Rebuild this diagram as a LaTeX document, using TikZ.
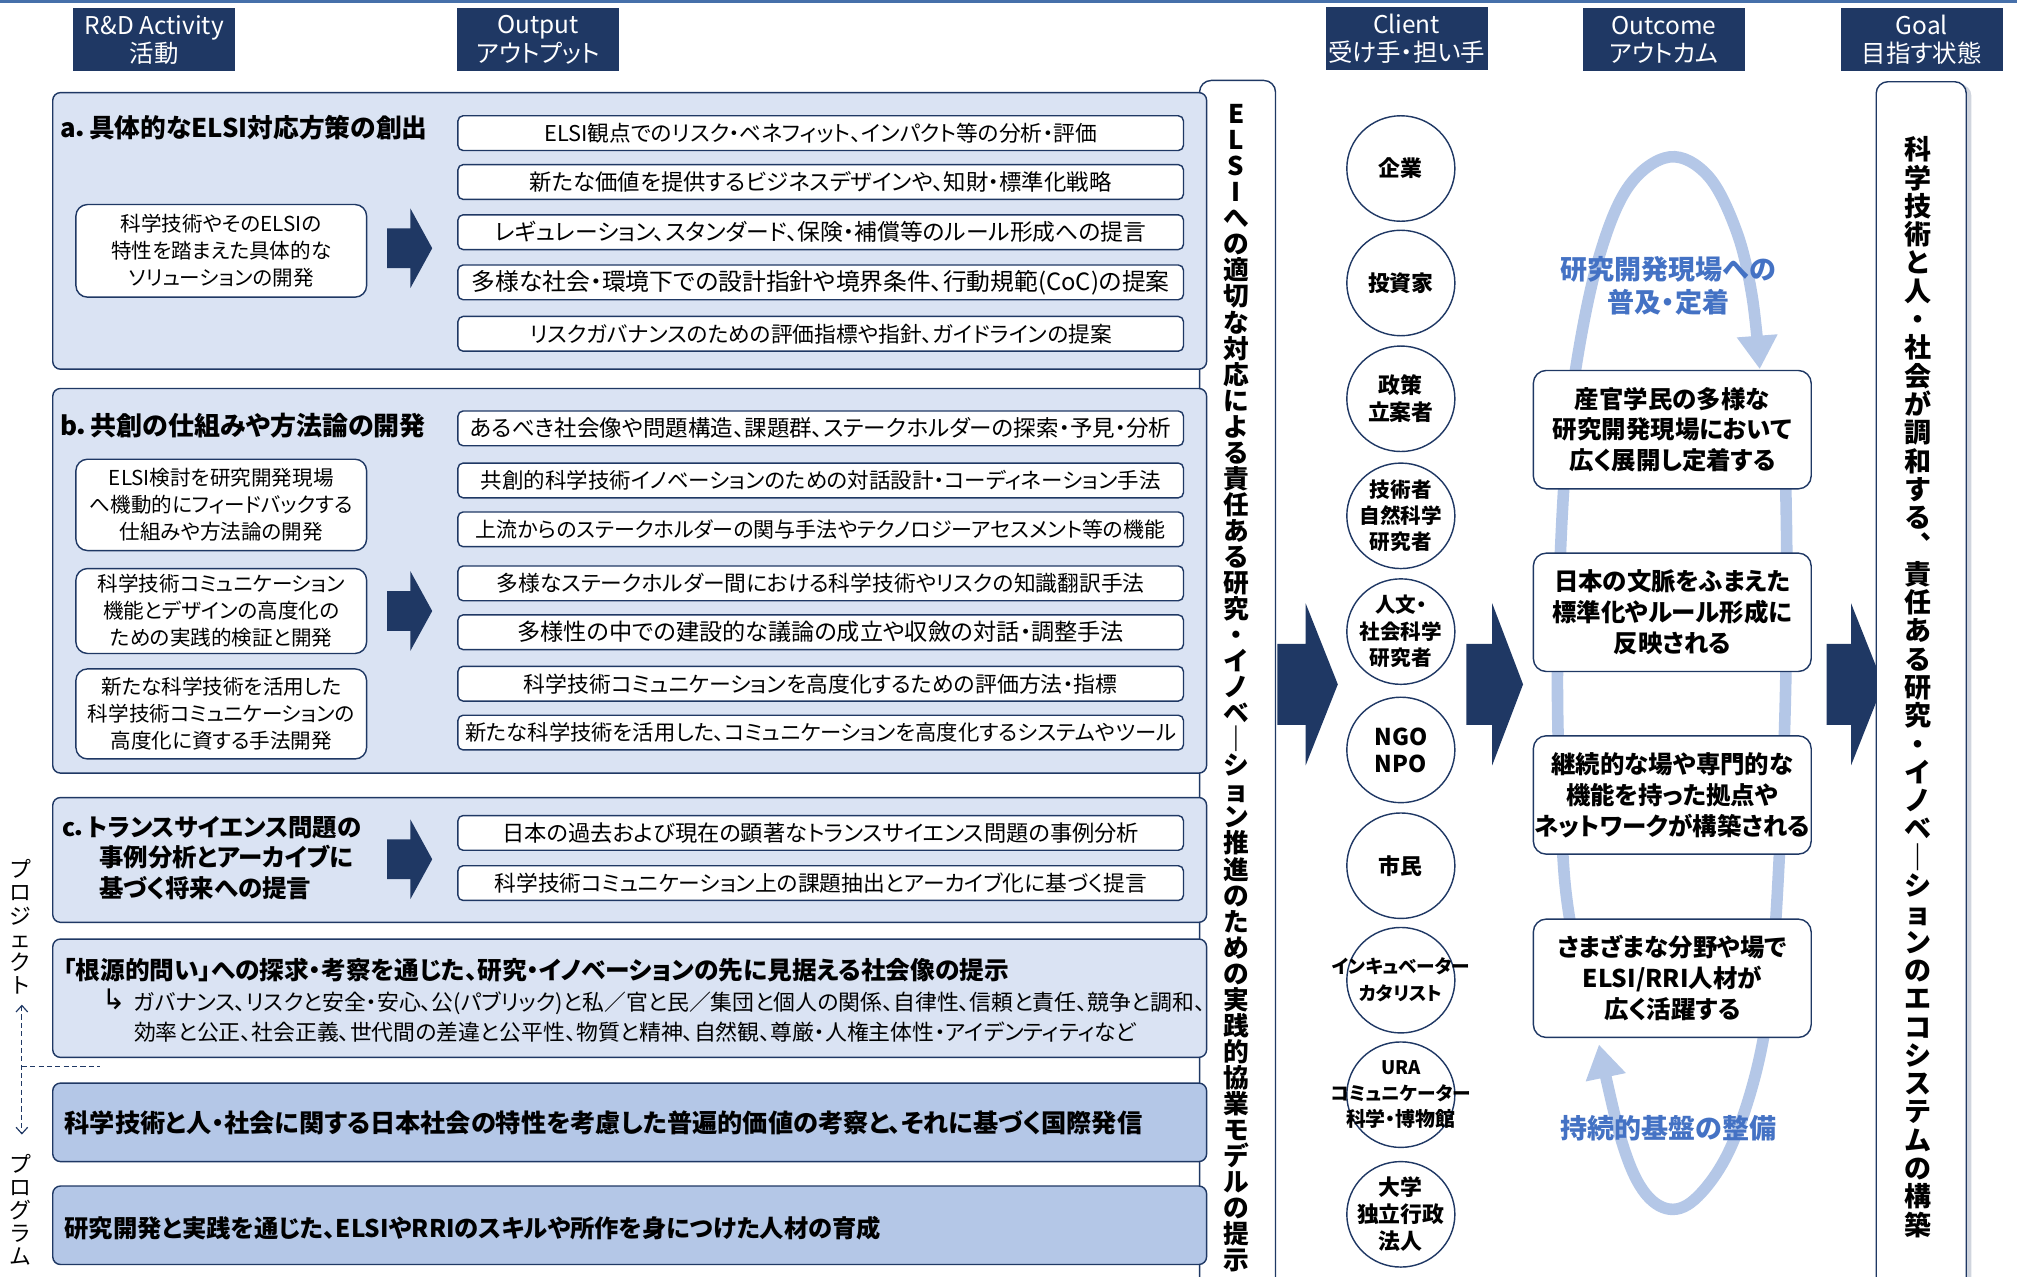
\documentclass[tikz,border=0pt]{standalone}
\usepackage{fontspec}
\setmainfont{Noto Sans CJK JP}
\newfontfamily\jc[RawFeature=+palt]{Noto Sans CJK JP}
\newfontfamily\jp[RawFeature=+palt]{Noto Sans CJK JP}
\newfontfamily\dv{DejaVu Sans}
\usetikzlibrary{shapes.geometric,arrows.meta,shadows}
\definecolor{navy}{RGB}{31,56,100}
\definecolor{lightfill}{RGB}{218,227,243}
\definecolor{midfill}{RGB}{180,199,231}
\definecolor{loopc}{RGB}{180,199,231}
\definecolor{bluetxt}{RGB}{68,114,196}
\definecolor{topline}{RGB}{70,112,170}
\newcommand\fsz[2]{\fontsize{#1}{#2}\selectfont}
\newcommand\blockarrow[6]{\fill[navy] (#1,#4-#5) -- (#2,#4-#5) -- (#2,#4-#6) -- (#3,#4) -- (#2,#4+#6) -- (#2,#4+#5) -- (#1,#4+#5) -- cycle;}
\tikzset{
 hdr/.style={fill=navy, text=white, minimum width=126pt, minimum height=49pt, inner sep=0pt, align=center, font=\jc\fsz{19}{22}},
 sect/.style={draw=navy, line width=1.1pt, fill=lightfill, rounded corners=6pt, inner sep=0pt, minimum width=897pt},
 sectdark/.style={sect, fill=midfill},
 obox/.style={draw=navy, line width=1.1pt, fill=white, rounded corners=4pt, minimum width=564pt, minimum height=27pt, inner sep=0pt, font=\jc\fsz{17}{20}},
 sbox/.style={draw=navy, line width=1.1pt, fill=white, rounded corners=9pt, minimum width=226pt, inner sep=0pt, align=center, font=\jc\fsz{16}{21}},
 ttl/.style={anchor=west, inner sep=0pt, font=\jc\bfseries\fsz{20}{24}, align=left},
 cli/.style={ellipse, draw=navy, line width=1.1pt, fill=white, minimum width=84pt, minimum height=82pt, inner sep=0pt},
 clitxt/.style={inner sep=0pt, align=center, font=\jp\bfseries\fsz{17}{21}},
 ocb/.style={draw=navy, line width=1.1pt, fill=white, rounded corners=10pt, minimum width=216pt, minimum height=92pt, inner sep=0pt, align=center, font=\jp\bfseries\fsz{19}{24}},
 vbox/.style={draw=navy, line width=1.1pt, fill=white, rounded corners=9pt, inner sep=0pt},
 vtxt/.style={inner sep=0pt, align=center, anchor=north},
 looparrow/.style={draw=loopc, line width=9pt, -{Triangle[length=26pt,width=30pt]}},
 bluelbl/.style={inner sep=0pt, align=center, text=bluetxt, font=\jp\bfseries\fsz{21}{26}},
 dashln/.style={draw=navy, line width=0.9pt, dash pattern=on 4pt off 2.5pt},
}
\begin{document}
\begin{tikzpicture}[x=1pt,y=-1pt]
\useasboundingbox (0,0) rectangle (1568,992);
\fill[white] (0,0) rectangle (1568,992);
\fill[topline] (0,0) rectangle (1568,2.2);

% headers
\node[hdr] (hRD) at (120,31) {R\&D Activity\\活動};
\node[hdr] (hOut) at (418.5,31) {Output\\アウトプット};
\node[hdr] (hCl) at (1093.5,30) {Client\\受け手・担い手};
\node[hdr] (hOc) at (1293.5,31) {Outcome\\アウトカム};
\node[hdr] (hGo) at (1494,31) {Goal\\目指す状態};

% vertical ELSI box
\node[vbox, minimum width=59pt, minimum height=950pt, anchor=north west] (elsiBox) at (932,62) {};
\node[vtxt, font=\bfseries\fsz{20}{20.25}] (elsiTxt) at (961,81) {E\\L\\S\\I\\へ\\の\\適\\切\\な\\対\\応\\に\\よ\\る\\責\\任\\あ\\る\\研\\究\\・\\イ\\ノ\\ベ\\｜\\シ\\ョ\\ン\\推\\進\\の\\た\\め\\の\\実\\践\\的\\協\\業\\モ\\デ\\ル\\の\\提\\示};

% sections
\node[sect, minimum height=215pt] (secA) at (489.5,179.5) {};
\node[sect, minimum height=299pt] (secB) at (489.5,451.5) {};
\node[sect, minimum height=97pt] (secC) at (489.5,668.5) {};
\node[sect, minimum height=92pt] (secD) at (489.5,776) {};
\node[sectdark, minimum height=61pt] (secE) at (489.5,872.5) {};
\node[sectdark, minimum height=61pt] (secF) at (489.5,952.5) {};

% section a
\node[ttl] (titA) at (47,99) {a．具体的なELSI対応方策の創出};
\node[sbox, minimum height=72pt] (subA) at (172,195) {科学技術やそのELSIの\\特性を踏まえた具体的な\\ソリューションの開発};
\blockarrow{301}{319}{336}{193}{15.5}{31}
\node[obox, font=\jc\fsz{16.9}{20}] (oA1) at (638,103.5) {ELSI観点でのリスク・ベネフィット、インパクト等の分析・評価};
\node[obox, font=\jc\fsz{17.4}{20}] (oA2) at (638,141.5) {新たな価値を提供するビジネスデザインや、知財・標準化戦略};
\node[obox, font=\jc\fsz{17.7}{20}] (oA3) at (638,180.5) {レギュレーション、スタンダード、保険・補償等のルール形成への提言};
\node[obox, font=\jc\fsz{18.5}{20}] (oA4) at (638,219.5) {多様な社会・環境下での設計指針や境界条件、行動規範(CoC)の提案};
\node[obox, font=\jc\fsz{16.9}{20}] (oA5) at (638,259.5) {リスクガバナンスのための評価指標や指針、ガイドラインの提案};

% section b
\node[ttl, font=\jc\bfseries\fsz{20.2}{24}] (titB) at (47,331) {b．共創の仕組みや方法論の開発};
\node[sbox, minimum height=71pt] (subB1) at (172,392.5) {ELSI検討を研究開発現場\\へ機動的にフィードバックする\\仕組みや方法論の開発};
\node[sbox, minimum height=66pt] (subB2) at (172,475) {科学技術コミュニケーション\\機能とデザインの高度化の\\ための実践的検証と開発};
\node[sbox, minimum height=70pt] (subB3) at (172,555) {新たな科学技術を活用した\\科学技術コミュニケーションの\\高度化に資する手法開発};
\blockarrow{301}{319}{336}{475}{15.5}{31}
\node[obox, font=\jc\fsz{17.5}{20}] (oB1) at (638,333) {あるべき社会像や問題構造、課題群、ステークホルダーの探索・予見・分析};
\node[obox, font=\jc\fsz{16.7}{20}] (oB2) at (638,373.5) {共創的科学技術イノベーションのための対話設計・コーディネーション手法};
\node[obox, font=\jc\fsz{16.3}{20}] (oB3) at (638,411.5) {上流からのステークホルダーの関与手法やテクノロジーアセスメント等の機能};
\node[obox, font=\jc\fsz{16.9}{20}] (oB4) at (638,453.5) {多様なステークホルダー間における科学技術やリスクの知識翻訳手法};
\node[obox, font=\jc\fsz{18}{20}] (oB5) at (638,491.5) {多様性の中での建設的な議論の成立や収斂の対話・調整手法};
\node[obox, font=\jc\fsz{17}{20}] (oB6) at (638,531.5) {科学技術コミュニケーションを高度化するための評価方法・指標};
\node[obox, font=\jc\fsz{16.6}{20}] (oB7) at (638,569.5) {新たな科学技術を活用した、コミュニケーションを高度化するシステムやツール};

% section c
\node[ttl, font=\jc\bfseries\fsz{19}{24}] (titC) at (48,667) {c．トランスサイエンス問題の\\\hspace*{29pt}事例分析とアーカイブに\\\hspace*{29pt}基づく将来への提言};
\blockarrow{301}{319}{336}{668}{15.5}{31}
\node[obox, font=\jc\fsz{17.3}{20}] (oC1) at (638,647.5) {日本の過去および現在の顕著なトランスサイエンス問題の事例分析};
\node[obox, font=\jc\fsz{16.9}{20}] (oC2) at (638,686.5) {科学技術コミュニケーション上の課題抽出とアーカイブ化に基づく提言};

% section d
\node[ttl, font=\jc\bfseries\fsz{19.2}{24}] (titD) at (49,754) {「根源的問い」への探求・考察を通じた、研究・イノベーションの先に見据える社会像の提示};
\node[anchor=west, inner sep=0pt, font=\dv\fsz{22}{24}] (hook) at (79,777) {↳};
\node[anchor=west, inner sep=0pt, font=\jc\fsz{17}{23}, align=left] (dTxt) at (104,790.5) {ガバナンス、リスクと安全・安心、公(パブリック)と私／官と民／集団と個人の関係、自律性、信頼と責任、競争と調和、\\効率と公正、社会正義、世代間の差違と公平性、物質と精神、自然観、尊厳・人権主体性・アイデンティティなど};

% sections e, f
\node[ttl, font=\jc\bfseries\fsz{19.6}{24}] (eTxt) at (50,873) {科学技術と人・社会に関する日本社会の特性を考慮した普遍的価値の考察と、それに基づく国際発信};
\node[ttl, font=\jc\bfseries\fsz{18.9}{24}] (fTxt) at (50,955) {研究開発と実践を通じた、ELSIやRRIのスキルや所作を身につけた人材の育成};

% left vertical labels
\node[vtxt, font=\fsz{17}{18}] (pj) at (16,668) {プ\\ロ\\ジ\\ェ\\ク\\ト};
\node[vtxt, font=\fsz{17}{18}] (pg) at (16,897) {プ\\ロ\\グ\\ラ\\ム};
\coordinate (dTop) at (17,781);
\coordinate (dBot) at (17,882);
\coordinate (dMid) at (17,829);
\coordinate (dEnd) at (78,829);
\draw[dashln, {Straight Barb[length=5pt,width=9pt]}-{Straight Barb[length=5pt,width=9pt]}] (dTop) -- (dBot);
\draw[dashln] (dMid) -- (dEnd);

% big arrows
\blockarrow{993}{1015}{1040}{532}{31.5}{63}
\blockarrow{1140}{1160}{1184}{532}{31.5}{63}
\blockarrow{1420}{1439}{1464}{532}{31.5}{63}

% clients
\node[cli] (cl1) at (1089,131) {};
\node[cli] (cl2) at (1089,220) {};
\node[cli] (cl3) at (1089,310) {};
\node[cli] (cl4) at (1089,401) {};
\node[cli] (cl5) at (1089,491) {};
\node[cli] (cl6) at (1089,583) {};
\node[cli] (cl7) at (1089,673) {};
\node[cli] (cl8) at (1089,762) {};
\node[cli] (cl9) at (1089,851) {};
\node[cli] (cl10) at (1089,944) {};
\node[clitxt] (ct1) at (cl1) {企業};
\node[clitxt] (ct2) at (cl2) {投資家};
\node[clitxt] (ct3) at (cl3) {政策\\立案者};
\node[clitxt, font=\jp\bfseries\fsz{16}{20.5}] (ct4) at (cl4) {技術者\\自然科学\\研究者};
\node[clitxt, font=\jp\bfseries\fsz{16}{20.5}] (ct5) at (cl5) {人文・\\社会科学\\研究者};
\node[clitxt, font=\jp\bfseries\fsz{18}{21}] (ct6) at (cl6) {NGO\\NPO};
\node[clitxt] (ct7) at (cl7) {市民};
\node[clitxt, font=\jp\bfseries\fsz{14.5}{21}] (ct8) at (cl8) {インキュベーター\\カタリスト};
\node[clitxt, font=\jp\bfseries\fsz{14.5}{20}] (ct9) at (cl9) {URA\\コミュニケーター\\{\fsz{15.5}{20}科学・博物館}};
\node[clitxt] (ct10) at (cl10) {大学\\独立行政\\法人};

% loop arrows
\draw[looparrow] plot[smooth, tension=0.6] coordinates {(1225,740) (1216,680) (1211,560) (1212,460) (1217,360) (1226,280) (1243,200) (1266,145) (1298,122) (1328,137) (1350,180) (1362,230) (1368,287)};
\draw[looparrow] plot[smooth, tension=0.6] coordinates {(1387,330) (1389,430) (1388,540) (1384,650) (1377,760) (1366,830) (1345,893) (1320,930) (1298,940) (1277,925) (1260,885) (1243,812)};
\node[bluelbl] (lblTop) at (1297,222) {研究開発現場への\\普及・定着};
\node[bluelbl] (lblBot) at (1297,877) {持続的基盤の整備};

% outcomes
\node[ocb] (oc1) at (1300,334) {産官学民の多様な\\研究開発現場において\\広く展開し定着する};
\node[ocb] (oc2) at (1300,476) {日本の文脈をふまえた\\標準化やルール形成に\\反映される};
\node[ocb] (oc3) at (1300,618) {継続的な場や専門的な\\機能を持った拠点や\\ネットワークが構築される};
\node[ocb] (oc4) at (1300,760.5) {さまざまな分野や場で\\ELSI/RRI人材が\\広く活躍する};

% goal
\node[vbox, drop shadow={shadow xshift=4pt, shadow yshift=-2pt, opacity=0.35, fill=navy!60}, minimum width=70pt, minimum height=950pt, anchor=north west] (goalBox) at (1458,63) {};
\node[vtxt, font=\bfseries\fsz{21}{22}] (goalTxt) at (1491,106) {科\\学\\技\\術\\と\\人\\・\\社\\会\\が\\調\\和\\す\\る\\︑\\責\\任\\あ\\る\\研\\究\\・\\イ\\ノ\\ベ\\｜\\シ\\ョ\\ン\\の\\エ\\コ\\シ\\ス\\テ\\ム\\の\\構\\築};
\end{tikzpicture}
\end{document}
